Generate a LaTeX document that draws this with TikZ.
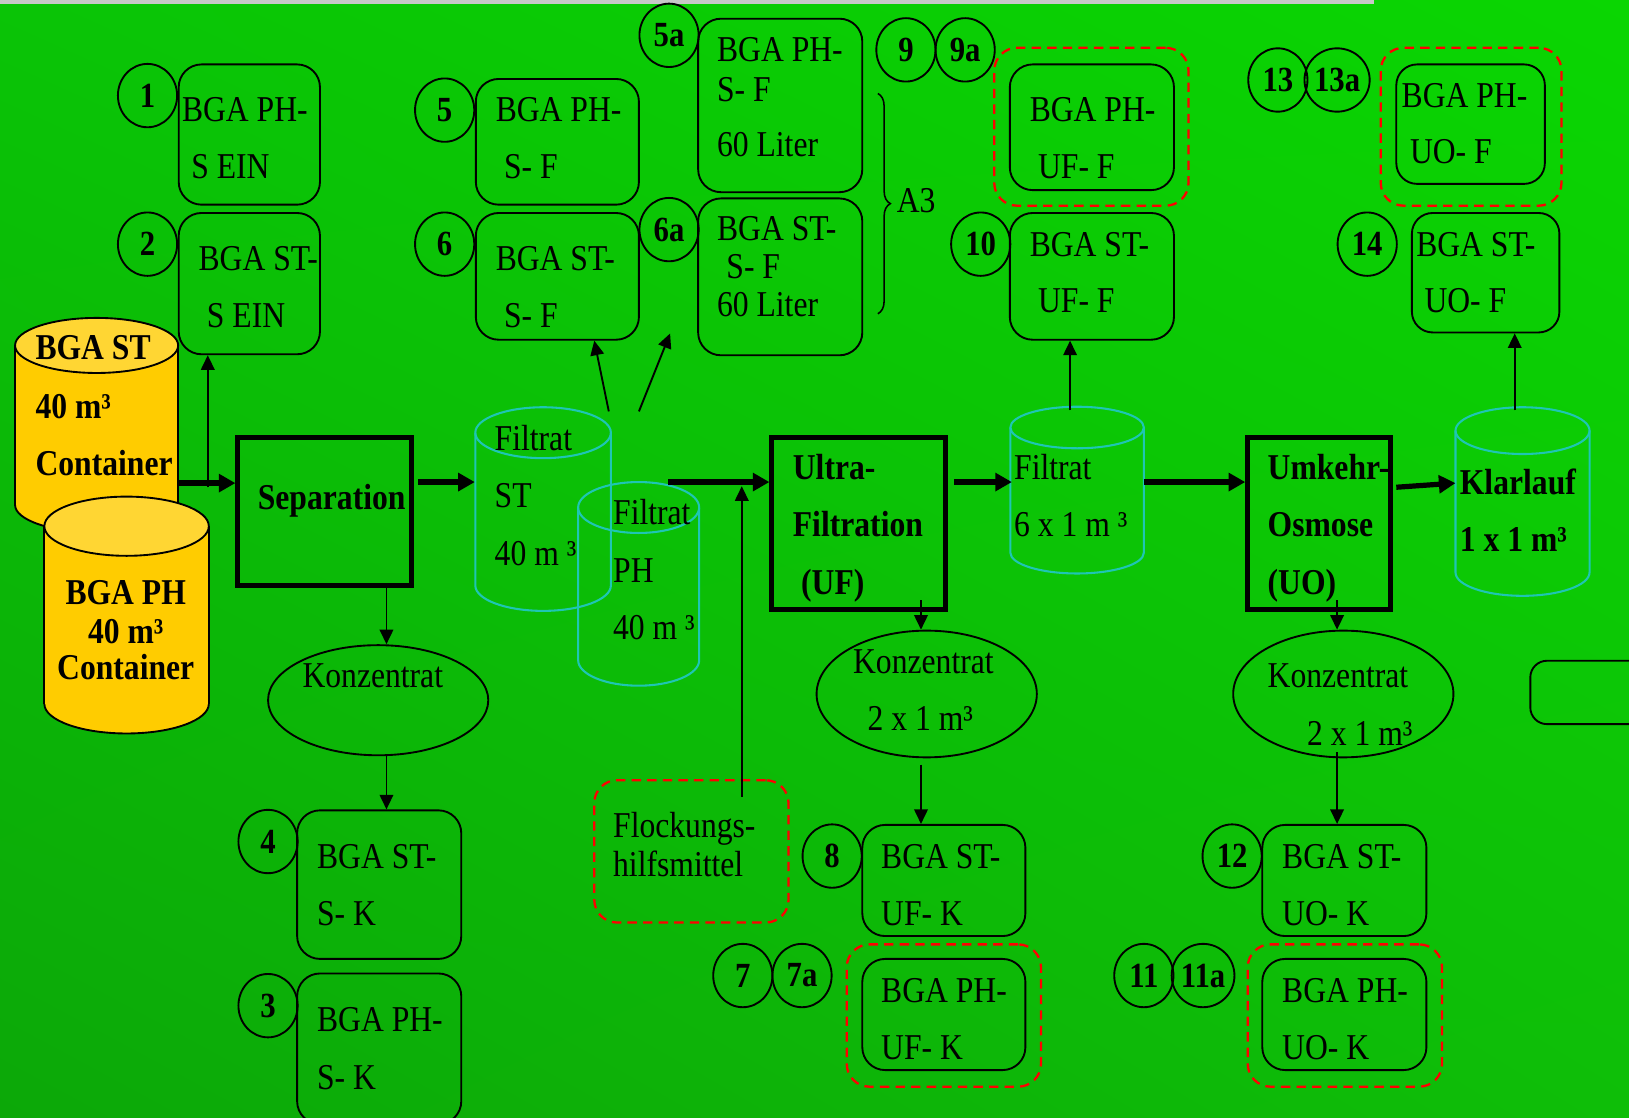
\documentclass[tikz,border=0pt]{standalone}
\usepackage{fontspec}
\setmainfont{Liberation Serif}[FakeStretch=0.87]
\usetikzlibrary{arrows.meta,shapes.geometric,fit,decorations.pathreplacing,shadings}

\definecolor{bgul}{RGB}{10,196,6}
\definecolor{bgur}{RGB}{10,214,2}
\definecolor{bgll}{RGB}{12,168,8}
\definecolor{bglr}{RGB}{14,190,8}
\definecolor{ylw}{RGB}{255,204,0}
\definecolor{ylwtop}{RGB}{255,214,51}
\definecolor{cyanline}{RGB}{30,198,180}
\definecolor{stripgray}{RGB}{200,200,200}

\newcommand{\rmtext}{\fontsize{35}{40}\selectfont}
\newcommand{\numfont}{\fontsize{34}{40}\selectfont\bfseries}

\tikzset{
  rbox/.style={draw=black, line width=1.8pt, rounded corners=22pt, inner sep=0pt},
  redbox/.style={draw=red, line width=2.2pt, dash pattern=on 9pt off 6pt,
                 rounded corners=22pt, inner sep=0pt},
  pbox/.style={draw=black, line width=4.8pt, inner sep=0pt},
  numc/.style={ellipse, draw=black, line width=1.8pt, minimum width=57pt,
               minimum height=61pt, inner sep=0pt, font=\numfont},
  konz/.style={ellipse, draw=black, line width=1.8pt, inner sep=0pt},
  txt/.style={inner sep=0pt, anchor=base west, font=\rmtext, yshift=-2.5pt},
  btxt/.style={inner sep=0pt, anchor=base west, font=\rmtext\bfseries, yshift=-2.5pt},
  ctxt/.style={inner sep=0pt, anchor=base, font=\rmtext\bfseries, yshift=-2.5pt},
  arr/.style={line width=1.8pt, -{Triangle[length=14pt,width=13pt]}},
  thk/.style={line width=5pt, -{Triangle[length=16pt,width=17pt]}},
  cyl/.style={draw=cyanline, line width=2pt},
  tank/.style={draw=black, line width=1.8pt},
}

\begin{document}
\begin{tikzpicture}[x=1pt,y=-1pt]
\useasboundingbox (0,0) rectangle (1568,1076);
\clip (0,0) rectangle (1568,1076);

% background
\shade[upper left=bgul, upper right=bgur, lower left=bgll, lower right=bglr]
  (0,0) rectangle (1568,1076);
\fill[stripgray] (0,0) rectangle (1323,3.5);

% ---------- storage tanks (yellow) ----------
% BGA ST tank
\draw[tank, fill=ylw] (93,486) ellipse [x radius=78.5pt, y radius=26.5pt];
\fill[ylw] (14.5,486) rectangle (171.5,332.5);
\draw[tank] (14.5,332.5) -- (14.5,486) (171.5,332.5) -- (171.5,486);
\draw[tank, fill=ylwtop] (93,332.5) ellipse [x radius=78.5pt, y radius=26.5pt];
\node[btxt] (st1) at (34,344) {BGA ST};
\node[btxt] (st2) at (34,400) {40 m³};
\node[btxt] (st3) at (34,455) {Container};

% BGA PH tank
\draw[tank, fill=ylw] (121.85,677.5) ellipse [x radius=79.15pt, y radius=28.5pt];
\fill[ylw] (42.7,677.5) rectangle (201,506.5);
\draw[tank] (42.7,506.5) -- (42.7,677.5) (201,506.5) -- (201,677.5);
\draw[tank, fill=ylwtop] (121.85,506.5) ellipse [x radius=79.15pt, y radius=28.5pt];
\node[ctxt] (ph1) at (121,579) {BGA PH};
\node[ctxt] (ph2) at (121,617) {40 m³};
\node[ctxt] (ph3) at (121,652) {Container};

% ---------- filtrate tanks (cyan outline) ----------
\draw[cyl] (522.75,416.5) ellipse [x radius=65.25pt, y radius=24.5pt];
\draw[cyl] (457.5,416.5) -- (457.5,563.5)
  arc[start angle=180, end angle=360, x radius=65.25pt, y radius=24.5pt] -- (588,416.5);
\draw[cyl] (614.75,488.5) ellipse [x radius=58.25pt, y radius=24.5pt];
\draw[cyl] (556.5,488.5) -- (556.5,635.5)
  arc[start angle=180, end angle=360, x radius=58.25pt, y radius=24.5pt] -- (673,488.5);
\draw[cyl] (1036.75,411.5) ellipse [x radius=64.25pt, y radius=20pt];
\draw[cyl] (972.5,411.5) -- (972.5,532)
  arc[start angle=180, end angle=360, x radius=64.25pt, y radius=20pt] -- (1101,411.5);
\draw[cyl] (1465.5,414.5) ellipse [x radius=64.5pt, y radius=22.5pt];
\draw[cyl] (1401,414.5) -- (1401,551)
  arc[start angle=180, end angle=360, x radius=64.5pt, y radius=22.5pt] -- (1530,414.5);

\node[txt] (fst1) at (476,431) {Filtrat};
\node[txt] (fst2) at (476,486) {ST};
\node[txt] (fst3) at (476,542) {40 m ³};
\node[txt] (fph1) at (590,502) {Filtrat};
\node[txt] (fph2) at (590,558) {PH};
\node[txt] (fph3) at (590,613) {40 m ³};
\node[txt] (fuf1) at (976,459) {Filtrat};
\node[txt] (fuf2) at (976,514) {6 x 1 m ³};
\node[btxt] (kl1) at (1405,473) {Klarlauf};
\node[btxt] (kl2) at (1405,528) {1 x 1 m³};

% ---------- process units ----------
\node[pbox, fit={(229,421) (396,564)}] (sep) {};
\node[btxt] (sept) at (248,488) {Separation};
\node[pbox, fit={(743,421) (910,587)}] (uf) {};
\node[btxt] (uft1) at (763,459) {Ultra-};
\node[btxt] (uft2) at (763,514) {Filtration};
\node[btxt] (uft3) at (771,570) {(UF)};
\node[pbox, fit={(1201,421) (1338,587)}] (uo) {};
\node[btxt] (uot1) at (1220,459) {Umkehr-};
\node[btxt] (uot2) at (1220,514) {Osmose};
\node[btxt] (uot3) at (1220,570) {(UO)};

% ---------- concentrates ----------
\node[konz, minimum width=212pt, minimum height=106pt] (k1) at (364,674) {};
\node[txt] (k1t) at (291,659) {Konzentrat};
\node[konz, minimum width=212pt, minimum height=122pt] (k2) at (892,668) {};
\node[txt] (k2t1) at (821,646) {Konzentrat};
\node[txt] (k2t2) at (835,701) {2 x 1 m³};
\node[konz, minimum width=212pt, minimum height=122pt] (k3) at (1293,668) {};
\node[txt] (k3t1) at (1220,659) {Konzentrat};
\node[txt] (k3t2) at (1258,715) {2 x 1 m³};

% ---------- sample boxes ----------
\node[rbox, fit={(172,62) (308,197)}] (b1) {};
\node[txt] (b1a) at (175,114) {BGA PH-};
\node[txt] (b1b) at (184,169) {S EIN};
\node[rbox, fit={(172,205) (308,341)}] (b2) {};
\node[txt] (b2a) at (191,258) {BGA ST-};
\node[txt] (b2b) at (199,313) {S EIN};

\node[rbox, fit={(458,76) (615,197)}] (b5) {};
\node[txt] (b5a1) at (477,114) {BGA PH-};
\node[txt] (b5b) at (485,169) {S- F};
\node[rbox, fit={(458,205) (615,327)}] (b6) {};
\node[txt] (b6a1) at (477,258) {BGA ST-};
\node[txt] (b6b) at (485,313) {S- F};

\node[rbox, fit={(672,18) (830,185)}] (b5x) {};
\node[txt] (b5x1) at (690,57) {BGA PH-};
\node[txt] (b5x2) at (690,95) {S- F};
\node[txt] (b5x3) at (690,148) {60 Liter};
\node[rbox, fit={(672,191) (830,342)}] (b6x) {};
\node[txt] (b6x1) at (690,229) {BGA ST-};
\node[txt] (b6x2) at (699,266) {S- F};
\node[txt] (b6x3) at (690,302) {60 Liter};
\draw[line width=1.5pt, decorate, decoration={brace, amplitude=12pt}]
  (845,90) -- (845,302);
\node[txt] (a3) at (863,202) {A3};

\node[redbox, fit={(957,46) (1144,198)}] (d9) {};
\node[rbox, fit={(972,62) (1130,183)}] (b9) {};
\node[txt] (b9a) at (991,114) {BGA PH-};
\node[txt] (b9b) at (999,169) {UF- F};
\node[rbox, fit={(972,205) (1130,327)}] (b10) {};
\node[txt] (b10a) at (991,244) {BGA ST-};
\node[txt] (b10b) at (999,298) {UF- F};

\node[redbox, fit={(1329,46) (1503,198)}] (d13) {};
\node[rbox, rounded corners=20pt, fit={(1344,62) (1487,177)}] (b13) {};
\node[txt] (b13a) at (1349,101) {BGA PH-};
\node[txt] (b13b) at (1357,155) {UO- F};
\node[rbox, rounded corners=20pt, fit={(1359,205) (1501,320)}] (b14) {};
\node[txt] (b14a) at (1363,244) {BGA ST-};
\node[txt] (b14b) at (1371,298) {UO- F};

\node[rbox, fit={(286,780) (444,923)}] (b4) {};
\node[txt] (b4a) at (305,833) {BGA ST-};
\node[txt] (b4b) at (305,888) {S- K};
\node[rbox, fit={(286,937) (444,1082)}] (b3) {};
\node[txt] (b3a) at (305,990) {BGA PH-};
\node[txt] (b3b) at (305,1046) {S- K};

\node[rbox, fit={(830,794) (987,901)}] (b8) {};
\node[txt] (b8a) at (848,833) {BGA ST-};
\node[txt] (b8b) at (848,888) {UF- K};
\node[redbox, fit={(815,909) (1002,1046)}] (d7) {};
\node[rbox, fit={(830,923) (987,1030)}] (b7) {};
\node[txt] (b7a) at (848,962) {BGA PH-};
\node[txt] (b7b) at (848,1017) {UF- K};

\node[rbox, fit={(1215,794) (1373,901)}] (b12) {};
\node[txt] (b12a) at (1234,833) {BGA ST-};
\node[txt] (b12b) at (1234,888) {UO- K};
\node[redbox, fit={(1201,909) (1388,1046)}] (d11) {};
\node[rbox, fit={(1215,923) (1373,1030)}] (b11) {};
\node[txt] (b11a) at (1234,962) {BGA PH-};
\node[txt] (b11b) at (1234,1017) {UO- K};

\node[redbox, fit={(572,751) (759,888)}] (flock) {};
\node[txt] (fl1) at (590,804) {Flockungs-};
\node[txt] (fl2) at (590,841) {hilfsmittel};

\node[rbox, rounded corners=16pt, fit={(1473,636) (1600,697)}] (edgebox) {};

% ---------- sample numbers ----------
\node[numc] (n1) at (142,92) {1};
\node[numc] (n2) at (142,235) {2};
\node[numc] (n5) at (428,106) {5};
\node[numc] (n6) at (428,235) {6};
\node[numc] (n5a) at (644,34) {5a};
\node[numc] (n6a) at (644,221) {6a};
\node[numc] (n9) at (872,48) {9};
\node[numc] (n9a) at (929,48) {9a};
\node[numc] (n10) at (944,235) {10};
\node[numc] (n13) at (1230,77) {13};
\node[numc] (n13a) at (1287,77) {13a};
\node[numc] (n14) at (1316,235) {14};
\node[numc] (n4) at (258,810) {4};
\node[numc] (n3) at (258,968) {3};
\node[numc] (n8) at (801,824) {8};
\node[numc] (n7) at (715,939) {7};
\node[numc] (n7a) at (772,939) {7a};
\node[numc] (n12) at (1186,824) {12};
\node[numc] (n11) at (1101,939) {11};
\node[numc] (n11a) at (1158,939) {11a};

% ---------- connection points ----------
\coordinate (stout) at (172,465);
\coordinate (tap1) at (200,469);
\coordinate (sepk) at (372,0);
\coordinate (fstin) at (457,464);
\coordinate (fsttop1) at (586,396);
\coordinate (fsttop2) at (615,396);
\coordinate (fstend2) at (645,321);
\coordinate (mixin) at (643,464);
\coordinate (flockout) at (714,767);
\coordinate (flockin) at (714,468);
\coordinate (ufk) at (886.5,578);
\coordinate (fufin) at (974,464);
\coordinate (fufout) at (1101,464);
\coordinate (fuftop) at (1030,395);
\coordinate (uok) at (1287,578);
\coordinate (uoout) at (1344,469);
\coordinate (klin) at (1401,465);
\coordinate (kltop) at (1458,395);

% ---------- main flow ----------
\draw[thk] (stout) -- (sep.west |- stout);
\draw[thk] ([xshift=4pt]sep.east |- fstin) -- (fstin);
\draw[thk] (mixin) -- (uf.west |- mixin);
\draw[thk] ([xshift=6pt]uf.east |- fufin) -- (fufin);
\draw[thk] (fufout) -- (uo.west |- fufout);
\draw[thk] (uoout) -- (klin);

% ---------- sampling and side flows ----------
\draw[arr] (tap1) -- (b2.south -| tap1);
\draw[arr] (sep.south -| sepk) -- (k1.north -| sepk);
\draw[arr] (k1.south -| sepk) -- (b4.north -| sepk);
\draw[arr] (fsttop1) -- ([xshift=-14pt]b6.south -| fsttop1);
\draw[arr] (fsttop2) -- (fstend2);
\draw[arr] (flockout) -- (flockin);
\draw[arr] (ufk) -- (k2.north -| ufk);
\draw[arr] ([yshift=-6pt]k2.south -| ufk) -- (b8.north -| ufk);
\draw[arr] (fuftop) -- (b10.south -| fuftop);
\draw[arr] (uok) -- (k3.north -| uok);
\draw[arr] ([yshift=6pt]k3.south -| uok) -- (b12.north -| uok);
\draw[arr] (kltop) -- (b14.south -| kltop);

\end{tikzpicture}
\end{document}
